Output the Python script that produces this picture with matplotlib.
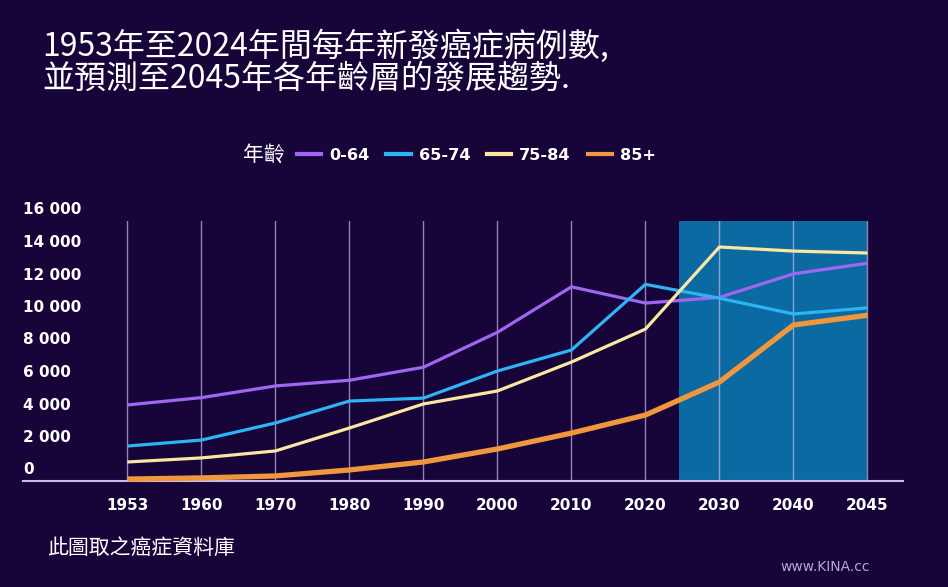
import matplotlib
matplotlib.use("Agg")
import matplotlib.pyplot as plt
import matplotlib.transforms as mtransforms
from matplotlib.lines import Line2D

# data
years = ['1953', '1960', '1970', '1980', '1990', '2000', '2010', '2020', '2030', '2040', '2045']
age_0_64 = [4680, 5130, 5850, 6200, 7000, 9150, 11950, 10950, 11300, 12750, 13400]
age_65_74 = [2150, 2520, 3570, 4920, 5100, 6770, 8060, 12100, 11250, 10280, 10650]
age_75_84 = [1170, 1420, 1850, 3260, 4740, 5540, 7320, 9350, 14400, 14150, 14030]
age_85_plus = [120, 190, 310, 680, 1170, 1970, 2950, 4060, 6090, 9600, 10200]
series_labels = ['0-64', '65-74', '75-84', '85+']
yticks = [0, 2000, 4000, 6000, 8000, 10000, 12000, 14000, 16000]
forecast_start = 7.45  # shaded region starts a bit after 2020

bg = '#17053a'
colors = ['#a066f2', '#2db4f4', '#fbe6a2', '#f0963c']
widths = [2.3, 2.3, 2.3, 3.8]

fig = plt.figure(figsize=(9.48, 5.87), dpi=100, facecolor=bg)
ax = fig.add_axes([23/948, 1 - 481/587, 880/948, 260/587])
ax.set_facecolor(bg)

x = list(range(len(years)))
ax.axvspan(forecast_start, len(years) - 1, color='#0b6aa2', zorder=0.2, lw=0)

for vals, col, lw in zip([age_0_64, age_65_74, age_75_84, age_85_plus], colors, widths):
    ax.plot(x, vals, color=col, lw=lw, zorder=3, clip_on=False, solid_capstyle='butt')

ax.set_xlim(-1.41, 10.48)
ax.set_ylim(0, 16000)
ax.set_axisbelow(True)
ax.set_xticks(x)
ax.set_xticklabels(years, color='white', fontsize=11, fontweight='bold', family='DejaVu Sans')
ax.tick_params(axis='x', length=0, pad=12)
ax.grid(axis='x', color='#c8b8f0', alpha=0.7, lw=1)
ax.set_yticks([])
for s in ['top', 'right', 'left']:
    ax.spines[s].set_visible(False)
ax.spines['bottom'].set_color('#c8bde6')
ax.spines['bottom'].set_linewidth(1.5)

# y labels sit a little above their value, left aligned
ytrans = mtransforms.blended_transform_factory(ax.transAxes, ax.transData) + \
    mtransforms.ScaledTranslation(0, 0.11, fig.dpi_scale_trans)
for v in yticks:
    ax.text(0, v, f"{v:,}".replace(',', ' '), transform=ytrans, color='white',
            fontsize=11, fontweight='bold', ha='left', va='center', family='DejaVu Sans')

cjk = ['Noto Sans CJK TC', 'DejaVu Sans']
fig.text(42/948, 1 - 46/587, '1953年至2024年間每年新發癌症病例數,', color='white',
         fontsize=23, family=cjk, ha='left', va='center')
fig.text(42/948, 1 - 79/587, '並預測至2045年各年齡層的發展趨勢.', color='white',
         fontsize=23, family=cjk, ha='left', va='center')

# legend
fig.text(243/948, 1 - 155/587, '年齡', color='white', fontsize=15, family=cjk,
         ha='left', va='center')
handles = [Line2D([], [], color=c, lw=3) for c in colors]
leg = fig.legend(handles, series_labels, loc='center left', bbox_to_anchor=(297/948, 1 - 155/587),
                 ncol=4, frameon=False, handlelength=1.5, handletextpad=0.5, columnspacing=1.05,
                 borderpad=0, borderaxespad=0, prop={'family': 'DejaVu Sans', 'weight': 'bold', 'size': 11.6})
for t in leg.get_texts():
    t.set_color('white')

fig.text(47/948, 1 - 548/587, '此圖取之癌症資料庫', color='white', fontsize=15, family=cjk,
         ha='left', va='center')
fig.text(780/948, 1 - 567/587, 'www.KINA.cc', color='#b0a8d0', fontsize=10, family='DejaVu Sans',
         ha='left', va='center')

fig.savefig('out.png', dpi=100, facecolor=bg)
